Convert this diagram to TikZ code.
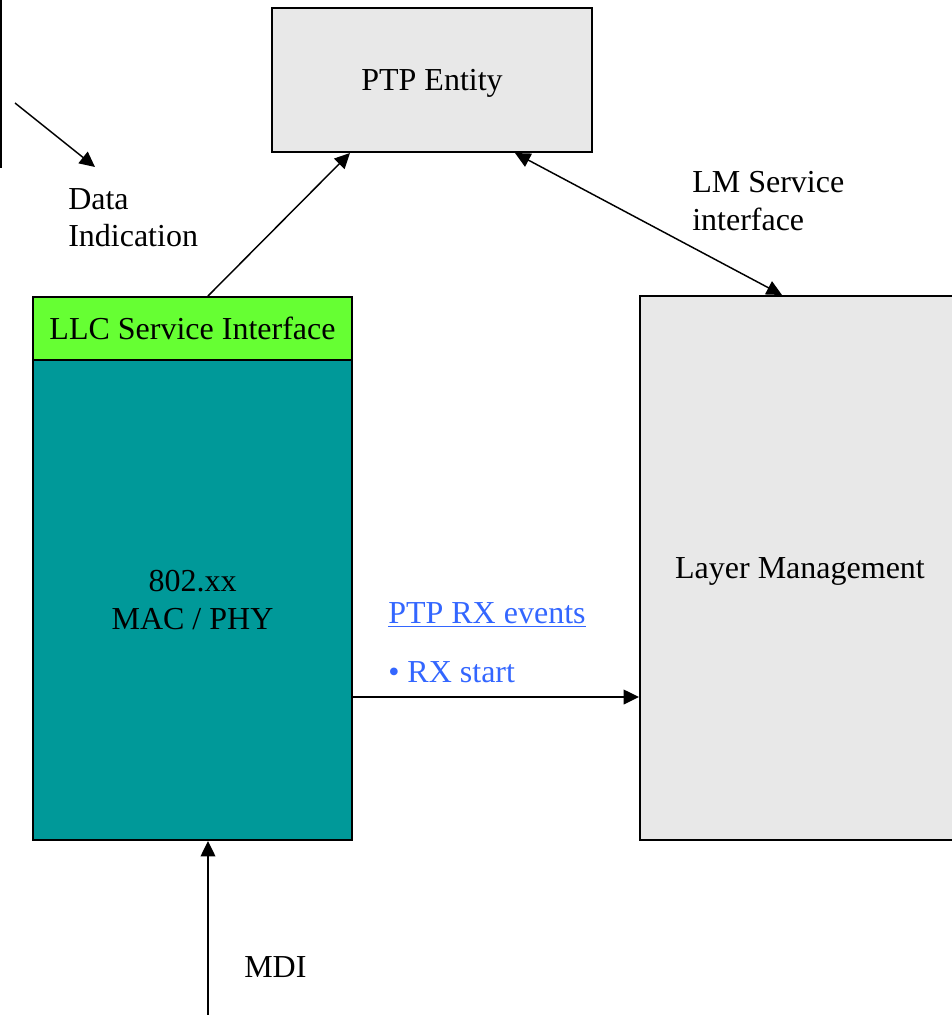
\documentclass[tikz,border=0pt]{standalone}
\usepackage{fontspec}
\setmainfont{Liberation Serif}
\usetikzlibrary{arrows.meta,calc}
\definecolor{boxgray}{HTML}{E8E8E8}
\definecolor{llcgreen}{HTML}{66FF33}
\definecolor{macteal}{HTML}{009999}
\definecolor{evblue}{HTML}{3366FF}
\tikzset{
  blk/.style={draw,line width=1.5pt,inner sep=0pt,font=\fontsize{24}{28}\selectfont,align=center},
  lbl/.style={inner sep=0pt,font=\fontsize{24}{28}\selectfont,align=left,anchor=west},
  arr/.style={line width=1.1pt,-{Triangle[length=11.5pt,width=11pt]}},
  arrboth/.style={line width=1.1pt,{Triangle[length=11.5pt,width=11pt]}-{Triangle[length=11.5pt,width=11pt]}}
}
\begin{document}
\begin{tikzpicture}[x=0.75pt,y=-0.75pt]
\useasboundingbox (0,0) rectangle (952,1015);
% boxes
\node[blk,fill=boxgray,text depth=0pt,minimum width=240pt,minimum height=108pt] (ptp) at (432,80) {PTP Entity};
\node[blk,fill=macteal,minimum width=239.25pt,minimum height=360pt] (mac) at (192.5,600) {802.xx\\MAC / PHY};
\node[blk,fill=llcgreen,minimum width=239.25pt,minimum height=47.25pt] (llc) at (192.5,328.5) {LLC Service Interface};
\node[blk,fill=boxgray,text depth=0pt,minimum width=240pt,minimum height=408pt] (lm) at (800,568) {Layer Management};

% labels
\node[lbl] (data) at (68,218) {Data\\Indication};
\node[lbl] (lmsi) at (692,201) {LM Service\\interface};
\node[lbl,text=evblue] (rxhead) at (388,615) {\underline{PTP RX events}};
\node[lbl,text=evblue] (rxitem) at (388,672) {\textbullet\ RX start};
\node[lbl] (mdi) at (244,967) {MDI};

% loose ends
\coordinate (ltop) at (1,0);
\coordinate (lbot) at (1,168);
\coordinate (dstart) at (15,103);
\coordinate (dend) at (95,167);
\coordinate (mdibot) at (208,1015);

\draw[line width=1.5pt] (ltop) -- (lbot);
\draw[arr] (dstart) -- (dend);
\draw[arr] ($(llc.north)+(15.5,0)$) -- ($(ptp.south)+(-82,0)$);
\draw[arrboth] ($(ptp.south)+(83,0)$) -- ($(lm.north)+(-18,0)$);
\draw[arr] ($(mac.east)+(0,97)$) -- ($(lm.west)+(0,129)$);
\draw[arr] (mdibot) -- ($(mac.south)+(15.5,0)$);
\end{tikzpicture}
\end{document}
